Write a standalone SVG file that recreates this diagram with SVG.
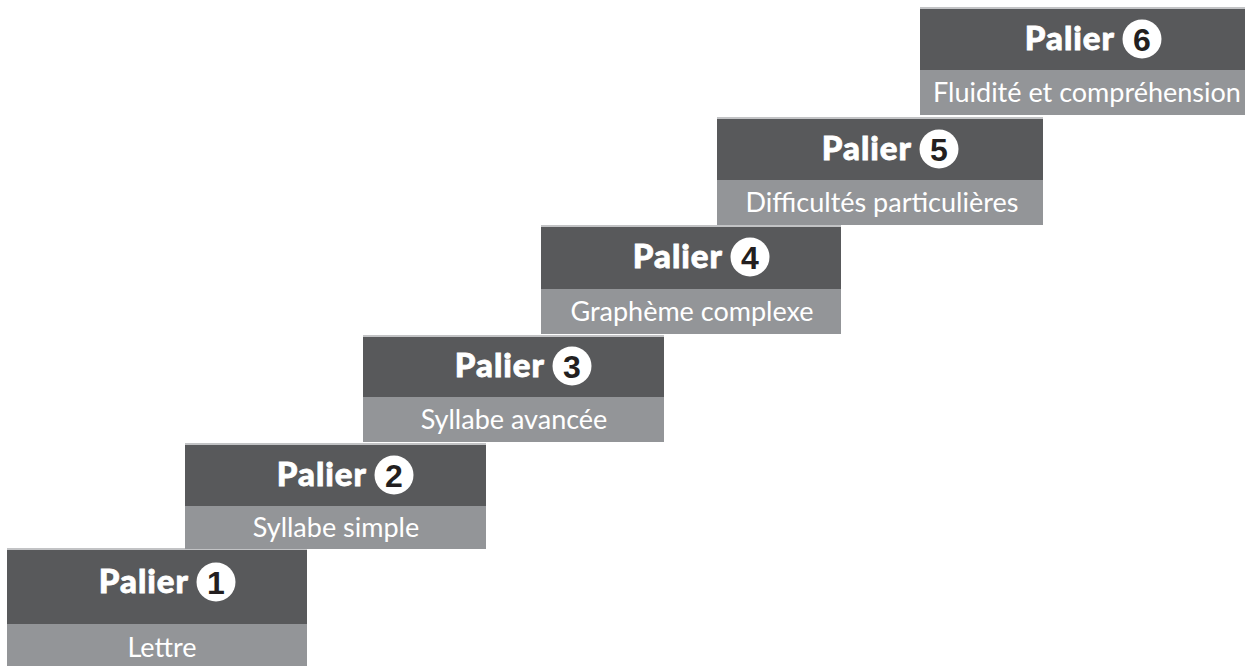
<svg xmlns="http://www.w3.org/2000/svg" width="1258" height="666" viewBox="0 0 1258 666">
<style>
.top{fill:#c2c3c5}
.dark{fill:#58595b}
.light{fill:#939598}
.title{font-family:Lato,"Open Sans","Liberation Sans",sans-serif;font-weight:900;font-size:33px;letter-spacing:1px;fill:#ffffff;stroke:#ffffff;stroke-width:0.8px;text-anchor:end}
.badge{fill:#ffffff}
.num{font-family:"Liberation Sans",Arial,sans-serif;font-weight:bold;font-size:32px;fill:#231f20;text-anchor:middle}
.sub{font-family:Lato,"Open Sans","Liberation Sans",sans-serif;font-size:27px;fill:#ffffff;text-anchor:middle}
</style>
<rect width="1258" height="666" fill="#ffffff"/>
<g id="connectors"></g>
<g id="palier1">
<rect class="top" x="7" y="548" width="300" height="2"/>
<rect class="dark" x="7" y="550" width="300" height="74"/>
<rect class="light" x="7" y="624" width="300" height="42"/>
<text class="title" x="189" y="593">Palier</text>
<circle class="badge" cx="216" cy="582" r="19.5"/>
<text class="num" x="216" y="593.5">1</text>
<text class="sub" x="162" y="657">Lettre</text>
</g>
<g id="palier2">
<rect class="top" x="185" y="443" width="301" height="2"/>
<rect class="dark" x="185" y="445" width="301" height="61"/>
<rect class="light" x="185" y="506" width="301" height="43"/>
<text class="title" x="367" y="486">Palier</text>
<circle class="badge" cx="394" cy="475" r="19.5"/>
<text class="num" x="394" y="486.5">2</text>
<text class="sub" x="336" y="537">Syllabe simple</text>
</g>
<g id="palier3">
<rect class="top" x="363" y="335" width="301" height="2"/>
<rect class="dark" x="363" y="337" width="301" height="60"/>
<rect class="light" x="363" y="397" width="301" height="45"/>
<text class="title" x="545" y="377">Palier</text>
<circle class="badge" cx="572" cy="366" r="19.5"/>
<text class="num" x="572" y="377.5">3</text>
<text class="sub" x="514" y="429">Syllabe avancée</text>
</g>
<g id="palier4">
<rect class="top" x="541" y="225" width="300" height="2"/>
<rect class="dark" x="541" y="227" width="300" height="62"/>
<rect class="light" x="541" y="289" width="300" height="45"/>
<text class="title" x="723" y="268">Palier</text>
<circle class="badge" cx="750" cy="257" r="19.5"/>
<text class="num" x="750" y="268.5">4</text>
<text class="sub" x="692" y="321">Graphème complexe</text>
</g>
<g id="palier5">
<rect class="top" x="717" y="117" width="326" height="2"/>
<rect class="dark" x="717" y="119" width="326" height="61"/>
<rect class="light" x="717" y="180" width="326" height="45"/>
<text class="title" x="912" y="160">Palier</text>
<circle class="badge" cx="939" cy="149" r="19.5"/>
<text class="num" x="939" y="160.5">5</text>
<text class="sub" x="882" y="212">Difficultés particulières</text>
</g>
<g id="palier6">
<rect class="top" x="920" y="7" width="325" height="2"/>
<rect class="dark" x="920" y="9" width="325" height="61"/>
<rect class="light" x="920" y="70" width="325" height="45"/>
<text class="title" x="1115" y="50">Palier</text>
<circle class="badge" cx="1142" cy="39" r="19.5"/>
<text class="num" x="1142" y="50.5">6</text>
<text class="sub" x="1087" y="102">Fluidité et compréhension</text>
</g>
</svg>
